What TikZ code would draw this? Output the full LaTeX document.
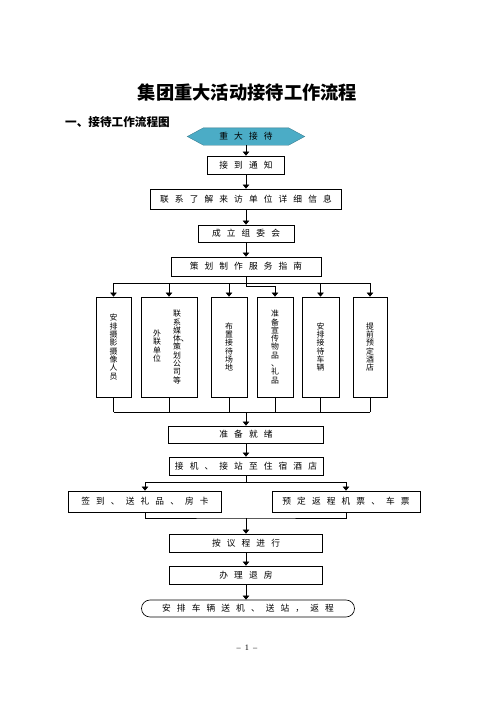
\documentclass[tikz,border=0pt]{standalone}
\usepackage{fontspec}
\setmainfont{Liberation Serif}
\newfontfamily\heiti{Noto Sans CJK SC}
\newfontfamily\songti[LetterSpace=70]{Noto Sans CJK SC}
\newfontfamily\songtiv{Noto Sans CJK SC}
\usetikzlibrary{arrows.meta,shapes.misc,backgrounds,calc}
\newcommand{\pxu}{0.4234mm}
\definecolor{hexcol}{RGB}{75,172,198}

\begin{document}
\begin{tikzpicture}[x=0.4234mm, y=-0.4234mm,
  box/.style 2 args={draw, rectangle, line width=0.8pt, inner sep=0pt,
    minimum width=#1*\pxu, minimum height=#2*\pxu,
    font=\songti\fontsize{10.5}{12}\selectfont},
  colbox/.style 2 args={draw, rectangle, line width=0.8pt, inner sep=0pt,
    minimum width=#1*\pxu, minimum height=#2*\pxu},
  vtext/.style={align=center, inner sep=0pt, font=\songtiv\fontsize{9.5}{10}\selectfont},
  arr/.style={line width=0.8pt, -{Triangle[width=8pt,length=5pt]}},
  link/.style={line width=0.8pt}]

\begin{scope}[on background layer]
\fill[white] (0,0) rectangle (496,702);
\end{scope}
\useasboundingbox (0,0) rectangle (496,702);

\node[font=\heiti\bfseries\fontsize{22}{26}\selectfont] (title) at (247.5,93) {集团重大活动接待工作流程};
\node[anchor=west, inner sep=0pt, font=\heiti\bfseries\fontsize{14}{16}\selectfont] (sub) at (65,122) {一、接待工作流程图};

\node[inner sep=0pt, minimum width=117*\pxu, minimum height=17*\pxu,
  font=\songti\fontsize{10.5}{12}\selectfont] (hex) at (246,136.5) {重大接待};
\begin{scope}[on background layer]
\filldraw[fill=hexcol, draw=hexcol!70!black, line width=0.4pt]
  (hex.west) -- ($(hex.north west)+(16,0)$) -- ($(hex.north east)+(-16,0)$)
  -- (hex.east) -- ($(hex.south east)+(-16,0)$) -- ($(hex.south west)+(16,0)$) -- cycle;
\end{scope}

\node[box={77}{18}] (n1) at (246,165) {接到通知};
\node[box={191}{20}] (n2) at (246,199) {联系了解来访单位详细信息};
\node[box={96}{17}] (n3) at (246,233.5) {成立组委会};
\node[box={150}{19}] (n4) at (246,266.5) {策划制作服务指南};

\node[colbox={35}{100}, vtext] (ca) at (113.5,347) {安\\排\\摄\\影\\摄\\像\\人\\员};
\node[colbox={56}{100}] (cb) at (169,347) {};
\node[vtext] (cbr) at (177,347) {联\\系\\媒\\体\rlap{、}\\策\\划\\公\\司\\等};
\node[vtext] (cbl) at (157,346) {外\\联\\单\\位};
\node[colbox={36}{100}, vtext] (cc) at (229,347) {布\\置\\接\\待\\场\\地};
\node[colbox={36}{100}, vtext] (cd) at (275,347) {准\\备\\宣\\传\\物\\品\\、\\礼\\品};
\node[colbox={37}{100}, vtext] (ce) at (320.5,347) {安\\排\\接\\待\\车\\辆};
\node[colbox={34}{100}, vtext] (cf) at (370,347) {提\\前\\预\\定\\酒\\店};

\node[box={155}{17}] (ready) at (246,434.5) {准备就绪};
\node[box={154}{18}] (pickup) at (246,466) {接机、接站至住宿酒店};
\node[box={153}{21}] (sign) at (145,501.5) {签到、送礼品、房卡};
\node[box={148}{21}] (ticket) at (346,501.5) {预定返程机票、车票};
\node[box={153}{18}] (agenda) at (246,543) {按议程进行};
\node[box={153}{18}] (checkout) at (246,575) {办理退房};
\node[box={213}{17}, rounded rectangle] (sendoff) at (248,608.5) {安排车辆送机、送站，返程};

\node[font=\fontsize{10}{12}\selectfont] (pagenum) at (247,648) {–\hspace{5pt}1\hspace{5pt}–};

\draw[arr] (hex.south) -- (n1.north);
\draw[arr] (n1.south) -- (n2.north);
\draw[arr] (n2.south) -- (n3.north);
\draw[arr] (n3.south) -- (n4.north);

\coordinate (busT) at (246,283);
\coordinate (jog) at (246,286);
\draw[link] (n4.south) -- (jog);
\draw[arr] (jog) -| (cd.north);
\draw[link] (ca.north |- busT) -- (cf.north |- busT);
\foreach \col in {ca,cb,cc,ce,cf}
  \draw[arr] (\col.north |- busT) -- (\col.north);

\coordinate (busB) at (246,412);
\draw[link] (ca.south |- busB) -- (cf.south |- busB);
\foreach \col in {ca,cb,cc,cd,ce,cf}
  \draw[link] (\col.south) -- (\col.south |- busB);
\draw[arr] (busB) -- (ready.north);
\draw[arr] (ready.south) -- (pickup.north);

\coordinate (split) at (246,482);
\draw[link] (pickup.south) -- (split);
\draw[arr] (split) -| (sign.north);
\draw[arr] (split) -| (ticket.north);
\coordinate (join) at (246,518);
\draw[link] (sign.south) |- (join) -| (ticket.south);
\draw[arr] (join) -- (agenda.north);
\draw[arr] (agenda.south) -- (checkout.north);
\draw[arr] (checkout.south) -- (checkout.south |- sendoff.north);
\end{tikzpicture}
\end{document}
